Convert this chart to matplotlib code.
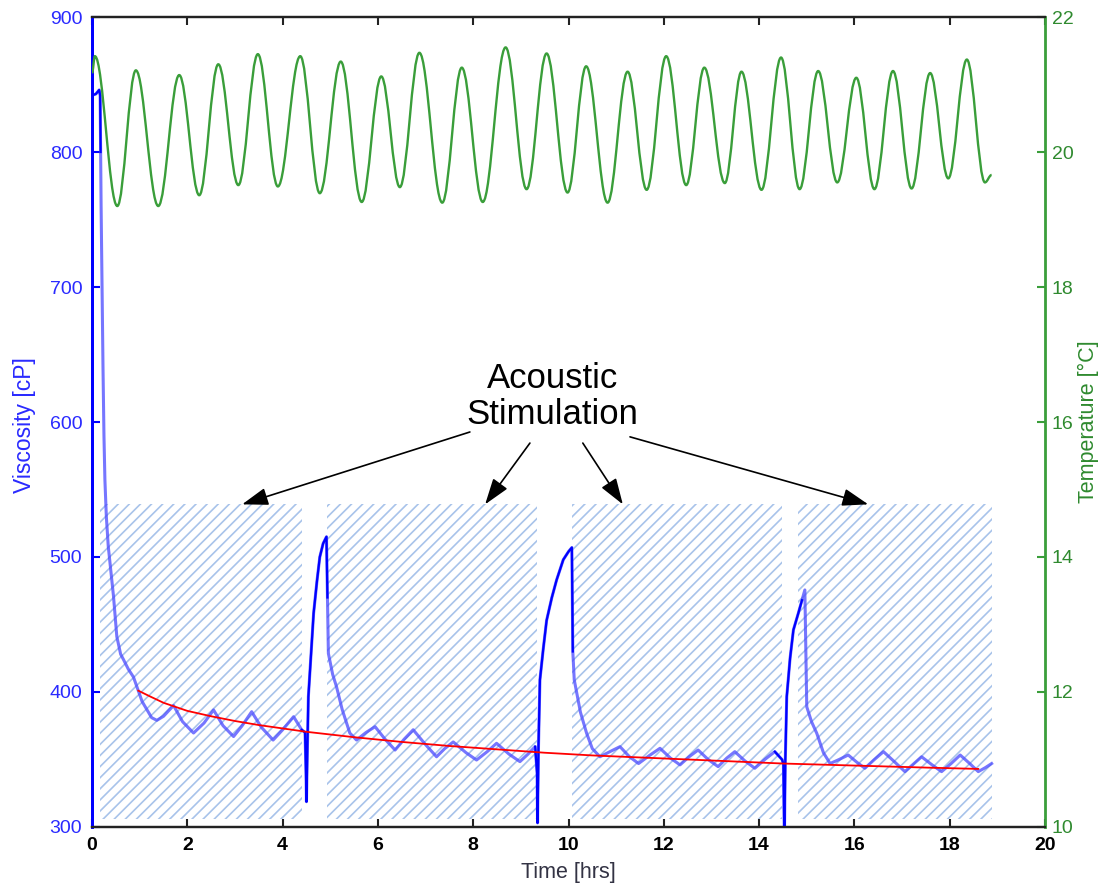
import numpy as np
import matplotlib
matplotlib.use("Agg")
import matplotlib.pyplot as plt
from matplotlib.patches import Rectangle, PathPatch
from matplotlib.path import Path

plt.rcParams['font.family'] = ['Liberation Sans', 'DejaVu Sans']
plt.rcParams['hatch.linewidth'] = 1.2

# Viscosity record [hrs, cP]
visc_time = [0.00, 0.08, 0.15, 0.17, 0.18, 0.19, 0.21, 0.23, 0.25, 0.27, 0.30, 0.34,
             0.40, 0.45, 0.52, 0.60, 0.66, 0.76, 0.87, 0.97, 1.05, 1.15, 1.25, 1.36,
             1.50, 1.71, 1.90, 2.13, 2.35, 2.55, 2.75, 2.97, 3.15, 3.35, 3.55, 3.80,
             4.00, 4.23, 4.40, 4.47, 4.49, 4.50, 4.52, 4.54, 4.60, 4.65, 4.72, 4.78,
             4.85, 4.92, 4.94, 4.96, 5.05, 5.13, 5.25, 5.41, 5.55, 5.75, 5.94, 6.15,
             6.36, 6.55, 6.74, 7.00, 7.23, 7.40, 7.58, 7.85, 8.07, 8.30, 8.49, 8.75,
             8.98, 9.15, 9.30, 9.34, 9.35, 9.37, 9.40, 9.47, 9.54, 9.65, 9.75, 9.89,
             10.00, 10.07, 10.09, 10.12, 10.25, 10.38, 10.50, 10.66, 10.88, 11.08,
             11.28, 11.47, 11.70, 11.92, 12.14, 12.34, 12.53, 12.72, 12.93, 13.14,
             13.32, 13.49, 13.70, 13.91, 14.12, 14.33, 14.48, 14.51, 14.53, 14.55,
             14.58, 14.65, 14.72, 14.82, 14.90, 14.96, 14.98, 15.00, 15.10, 15.21,
             15.35, 15.49, 15.68, 15.87, 16.05, 16.22, 16.42, 16.61, 16.85, 17.06,
             17.25, 17.41, 17.63, 17.83, 18.03, 18.22, 18.42, 18.60, 18.75, 18.88]
visc_cp = [842, 843, 846, 842, 800, 760, 700, 640, 590, 557, 530, 508,
           488, 471, 441, 428, 424, 417, 411, 401, 393, 387, 381, 379,
           382, 390, 378, 369.6, 377, 386.7, 375, 367, 375, 385.4, 374, 364.4,
           372, 381.7, 372, 370, 340, 318.7, 360, 396.5, 430, 458.3, 482, 500,
           510, 515, 470, 428.6, 413, 404, 387, 369.6, 364.4, 370, 374.3, 365,
           357, 365, 372, 361, 352, 358, 363, 355, 349.6, 356, 362, 354,
           348.4, 354, 359.5, 340, 303, 360, 409, 432, 453, 470, 483, 498,
           504, 507, 430, 409, 385, 369.4, 358, 352, 356, 359.5,
           352, 347, 353, 358.3, 351, 346, 352, 357, 350, 344.7,
           351, 355.8, 349, 343.5, 350, 355.8, 350, 347, 290, 350,
           396.5, 425, 446, 458, 468, 475.6, 430, 389, 378, 369.4,
           355, 347, 350, 353.3, 348, 343.5, 350, 355.8, 348, 341,
           347, 352, 346, 341, 347, 353.3, 347, 341, 344, 347]

# Decay fit [hrs, cP]
fit_time = [0.97, 1.2, 1.5, 2.0, 2.5, 3.0, 3.5, 4.0, 4.5, 5.5, 6.5, 7.5, 8.5,
            9.5, 10.5, 11.5, 12.5, 13.5, 14.5, 15.5, 16.5, 17.5, 18.6]
fit_cp = [401, 397, 392, 386, 382, 378.5, 375.5, 373, 370.5, 366.5, 363, 360,
          357.5, 355, 353, 351.5, 350, 348.5, 347, 346, 345, 344, 343]

# Temperature record: successive highs and lows [hrs, degC]
temp_time = [0.00, 0.06, 0.53, 0.92, 1.39, 1.83, 2.25, 2.65, 3.07, 3.48, 3.90,
             4.37, 4.78, 5.22, 5.66, 6.07, 6.46, 6.87, 7.35, 7.76, 8.20, 8.68,
             9.12, 9.54, 9.98, 10.37, 10.82, 11.24, 11.64, 12.05, 12.47, 12.85,
             13.28, 13.63, 14.05, 14.46, 14.85, 15.24, 15.64, 16.04, 16.42,
             16.81, 17.20, 17.59, 17.97, 18.36, 18.74, 18.88]
temp_c = [21.17, 21.42, 19.20, 21.21, 19.20, 21.14, 19.36, 21.30, 19.51, 21.45,
          19.49, 21.42, 19.39, 21.34, 19.26, 21.12, 19.48, 21.47, 19.25, 21.25,
          19.26, 21.55, 19.45, 21.46, 19.40, 21.27, 19.25, 21.19, 19.44, 21.42,
          19.51, 21.25, 19.54, 21.19, 19.44, 21.40, 19.45, 21.20, 19.55, 21.10,
          19.45, 21.20, 19.46, 21.17, 19.61, 21.37, 19.55, 19.66]

# Acoustic stimulation windows [hrs] and their band [cP]
stim_start = [0.17, 4.93, 10.07, 14.82]
stim_end = [4.41, 9.34, 14.48, 18.89]
stim_low, stim_high = 306, 539

# Arrow targets along the top of each window and the tail points near the label
arrow_tip_t = [3.15, 8.25, 11.14, 16.29]
arrow_tail_t = [7.93, 9.19, 10.30, 11.29]
arrow_tail_cp = [592.6, 584.4, 584.4, 589.0]

x_ticks = list(range(0, 21, 2))
visc_ticks = list(range(300, 901, 100))
temp_ticks = list(range(10, 23, 2))

BLUE = '#0000ff'
GREEN = '#3a9e3a'
GREEN_TXT = '#2f8a2f'
HATCH = '#a8c3ea'

fig = plt.figure(figsize=(11.13, 8.92), dpi=100)
ax = fig.add_axes([0.0827, 0.0729, 0.8562, 0.9080])
ax2 = ax.twinx()

# hatched stimulation windows
for s, e in zip(stim_start, stim_end):
    ax.add_patch(Rectangle((s, stim_low), e - s, stim_high - stim_low,
                           facecolor='none', edgecolor=HATCH, linewidth=0,
                           hatch='///', zorder=1))

vt = np.array(visc_time)
vc = np.array(visc_cp)
# full trace, softened during stimulation
ax.plot(vt, vc, color='#4848ff', alpha=0.75, lw=2.2, zorder=2)
# recovery phases between windows drawn solid
gaps = [(0.0, stim_start[0])] + list(zip(stim_end[:-1], stim_start[1:]))
for g0, g1 in gaps:
    idx = np.where((vt >= g0 - 1e-9) & (vt <= g1 + 1e-9))[0]
    if len(idx) == 0:
        continue
    lo, hi = max(idx[0] - 1, 0), min(idx[-1] + 1, len(vt) - 1)
    ax.plot(vt[lo:hi + 1], vc[lo:hi + 1], color=BLUE, lw=1.6, zorder=3)

ax.plot(fit_time, fit_cp, color='#ff0000', lw=1.3, zorder=4)

# temperature: smooth curve with flat tangents at each high and low
verts = [(temp_time[0], temp_c[0])]
codes = [Path.MOVETO]
for (t0, y0), (t1, y1) in zip(zip(temp_time[:-1], temp_c[:-1]),
                              zip(temp_time[1:], temp_c[1:])):
    dt = t1 - t0
    verts += [(t0 + 0.37 * dt, y0), (t1 - 0.37 * dt, y1), (t1, y1)]
    codes += [Path.CURVE4] * 3
ax2.add_patch(PathPatch(Path(verts, codes), facecolor='none',
                        edgecolor=GREEN, lw=1.7, zorder=3))

# annotation
ax.text(9.67, 619, 'Acoustic\nStimulation', fontsize=25, ha='center',
        va='center', linespacing=1.12, color='black', zorder=6)
for tip, tt, tc in zip(arrow_tip_t, arrow_tail_t, arrow_tail_cp):
    ax.annotate('', xy=(tip, stim_high), xytext=(tt, tc),
                arrowprops=dict(arrowstyle='-|>,head_length=0.8,head_width=0.27',
                                mutation_scale=20, color='black', lw=1.2,
                                shrinkA=0, shrinkB=0), zorder=6)

ax.set_xlim(0, 20)
ax.set_ylim(300, 900)
ax2.set_ylim(10, 22)
ax.set_xticks(x_ticks)
ax.set_yticks(visc_ticks)
ax2.set_yticks(temp_ticks)

ax.tick_params(axis='x', direction='in', length=6, width=1.5, top=True,
               labelsize=14, pad=7, color='#222222')
for lab in ax.get_xticklabels():
    lab.set_fontweight('bold')
ax.tick_params(axis='y', direction='in', length=6, width=1.5, colors=BLUE,
               labelsize=14, pad=7, right=False)
ax.tick_params(axis='y', labelcolor='#2a2aff')
ax2.tick_params(axis='y', direction='in', length=6, width=1.5, colors=GREEN,
                labelsize=14, pad=5, labelcolor=GREEN_TXT)

for a in (ax, ax2):
    a.spines['top'].set_color('#222222')
    a.spines['bottom'].set_color('#222222')
    a.spines['top'].set_linewidth(1.6)
    a.spines['bottom'].set_linewidth(1.6)
ax2.spines['left'].set_color(BLUE)
ax2.spines['left'].set_linewidth(2)
ax2.spines['right'].set_color(GREEN)
ax2.spines['right'].set_linewidth(2)
ax.spines['left'].set_color(BLUE)
ax.spines['left'].set_linewidth(2)
ax.spines['right'].set_visible(False)

ax.set_xlabel('Time [hrs]', fontsize=15.5, color='#333344')
ax.xaxis.set_label_coords(0.5, -0.043)
ax.set_ylabel('Viscosity [cP]', fontsize=16.5, color='#2a2aff')
ax.yaxis.set_label_coords(-0.059, 0.496)
ax2.set_ylabel('Temperature [\u00b0C]', fontsize=15.5, color=GREEN_TXT)
ax2.yaxis.set_label_coords(1.035, 0.501)

fig.savefig('out.png', dpi=100)
